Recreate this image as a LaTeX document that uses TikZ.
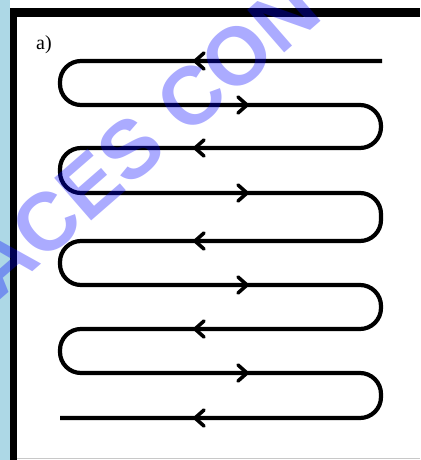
\documentclass[tikz,border=0pt]{standalone}
\usepackage{fontspec}
\setmainfont{Liberation Serif}
\newfontfamily\wmfont{Liberation Sans}
\definecolor{stripblue}{RGB}{173,216,230}
\definecolor{rulegray}{RGB}{200,200,200}
\tikzset{
  serp/.style={line width=4.2pt, rounded corners=21pt, line cap=butt},
  chev/.style={line width=3.6pt, line cap=round, line join=miter},
  wmark/.style={text=blue, text opacity=0.33, font=\wmfont\bfseries\fontsize{82}{82}\selectfont, inner sep=0pt, rotate=41, anchor=base west}
}
\begin{document}
\begin{tikzpicture}[x=1pt,y=-1pt]
\useasboundingbox (0,0) rectangle (420,460);
\fill[white] (0,0) rectangle (420,460);
% frame
\fill[stripblue] (0,0) rectangle (10,460);
\fill[black] (10,8) rectangle (420,17);
\fill[black] (10,8) rectangle (17,460);
\draw[rulegray, line width=1pt] (17,458.5) -- (420,458.5);
% label
\node[anchor=base west, inner sep=0pt, font=\fontsize{20}{20}\selectfont] (lab) at (36,50) {a)};
% serpentine
\draw[serp] (382,61) -- (60,61) -- (60,105) -- (381,105) -- (381,148) -- (60,148) -- (60,193) -- (381,193) -- (381,241) -- (60,241) -- (60,285) -- (381,285) -- (381,329) -- (60,329) -- (60,373) -- (381,373) -- (381,418) -- (60,418);
% direction chevrons
\foreach \y in {61,148,241,329,418} {
  \draw[chev] (204,\y-8) -- (195,\y) -- (204,\y+8);
}
\foreach \y in {105,193,285,373} {
  \draw[chev] (238,\y-8) -- (247,\y) -- (238,\y+8);
}
% watermark
\node[wmark] (wm) at (-2,302) {ACES CON};
\end{tikzpicture}
\end{document}
